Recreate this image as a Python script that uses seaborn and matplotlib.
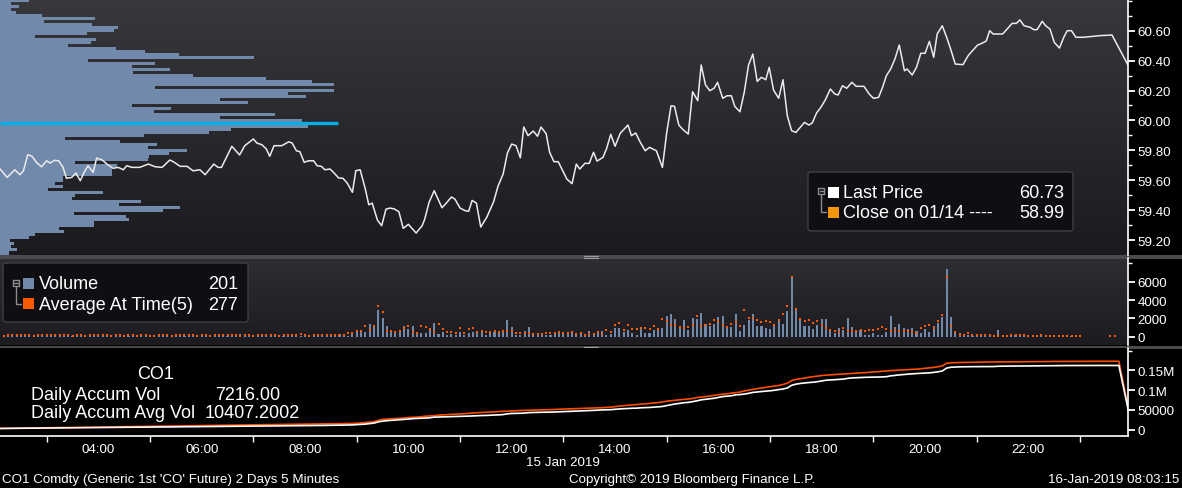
import numpy as np
import pandas as pd
import matplotlib
matplotlib.use("Agg")
import matplotlib.pyplot as plt
import matplotlib.dates as mdates
import seaborn as sns
from matplotlib.patches import Rectangle, FancyBboxPatch
from matplotlib.lines import Line2D
from matplotlib.colors import LinearSegmentedColormap
from matplotlib.ticker import FixedLocator, FixedFormatter

# ---------------- data ----------------
DAY = "2019-01-15"

price_times = [
    "02:06", "02:14", "02:17", "02:23", "02:29", "02:33", "02:38", "02:43", "02:48", "02:54",
    "03:00", "03:04", "03:09", "03:14", "03:19", "03:23", "03:29", "03:34", "03:39", "03:44",
    "03:48", "03:54", "03:58", "04:04", "04:10", "04:17", "04:23", "04:29", "04:33", "04:39",
    "04:48", "04:58", "05:06", "05:14", "05:23", "05:27", "05:35", "05:43", "05:50", "05:58",
    "06:04", "06:14", "06:19", "06:23", "06:35", "06:44", "06:50", "07:00", "07:04", "07:10",
    "07:15", "07:19", "07:24", "07:33", "07:41", "07:45", "07:50", "07:54", "07:59", "08:04",
    "08:10", "08:14", "08:19", "08:23", "08:29", "08:33", "08:39", "08:44", "08:49", "08:55",
    "08:59", "09:04", "09:10", "09:14", "09:18", "09:24", "09:29", "09:34", "09:39", "09:44",
    "09:49", "09:54", "10:00", "10:09", "10:16", "10:19", "10:24", "10:30", "10:39", "10:44",
    "10:50", "10:54", "11:00", "11:06", "11:10", "11:14", "11:19", "11:24", "11:31", "11:39",
    "11:44", "11:50", "11:55", "12:00", "12:05", "12:10", "12:14", "12:19", "12:25", "12:30",
    "12:34", "12:40", "12:44", "12:49", "12:54", "13:04", "13:10", "13:15", "13:19", "13:25",
    "13:30", "13:35", "13:39", "13:46", "13:50", "13:55", "14:00", "14:06", "14:15", "14:19",
    "14:24", "14:29", "14:35", "14:40", "14:48", "14:55", "15:00", "15:05", "15:09", "15:14",
    "15:19", "15:25", "15:30", "15:36", "15:40", "15:45", "15:50", "15:55", "15:59", "16:05",
    "16:10", "16:15", "16:19", "16:25", "16:30", "16:35", "16:40", "16:45", "16:50", "16:55",
    "16:59", "17:04", "17:10", "17:15", "17:20", "17:25", "17:30", "17:35", "17:40", "17:45",
    "17:49", "17:54", "17:59", "18:04", "18:10", "18:15", "18:19", "18:24", "18:29", "18:35",
    "18:40", "18:49", "18:55", "19:00", "19:06", "19:11", "19:15", "19:20", "19:25", "19:30",
    "19:36", "19:39", "19:45", "19:50", "19:55", "20:00", "20:05", "20:10", "20:14", "20:20",
    "20:25", "20:30", "20:35", "20:44", "20:50", "20:55", "21:01", "21:06", "21:11", "21:15",
    "21:19", "21:30", "21:36", "21:41", "21:46", "21:50", "21:55", "22:02", "22:06", "22:10",
    "22:16", "22:20", "22:25", "22:30", "22:36", "22:41", "22:45", "22:50", "22:55", "23:04",
    "23:23", "23:37", "23:56",
]
last_price = [
    59.675, 59.619, 59.635, 59.670, 59.637, 59.663, 59.771, 59.760, 59.720, 59.690,
    59.730, 59.715, 59.733, 59.730, 59.686, 59.613, 59.619, 59.648, 59.597, 59.659,
    59.697, 59.653, 59.748, 59.737, 59.708, 59.680, 59.686, 59.670, 59.697, 59.686,
    59.686, 59.708, 59.690, 59.686, 59.735, 59.724, 59.693, 59.693, 59.663, 59.670,
    59.637, 59.708, 59.686, 59.686, 59.827, 59.769, 59.831, 59.876, 59.849, 59.837,
    59.809, 59.760, 59.831, 59.831, 59.857, 59.849, 59.797, 59.791, 59.720, 59.730,
    59.730, 59.697, 59.693, 59.670, 59.675, 59.653, 59.615, 59.613, 59.581, 59.519,
    59.664, 59.670, 59.541, 59.436, 59.447, 59.334, 59.296, 59.407, 59.414, 59.407,
    59.389, 59.278, 59.305, 59.247, 59.296, 59.340, 59.452, 59.530, 59.416, 59.447,
    59.488, 59.474, 59.414, 59.396, 59.392, 59.465, 59.447, 59.287, 59.352, 59.456,
    59.559, 59.641, 59.782, 59.842, 59.831, 59.750, 59.956, 59.898, 59.929, 59.894,
    59.956, 59.911, 59.787, 59.724, 59.724, 59.608, 59.577, 59.708, 59.675, 59.713,
    59.713, 59.787, 59.728, 59.753, 59.809, 59.907, 59.827, 59.914, 59.969, 59.898,
    59.916, 59.857, 59.797, 59.820, 59.797, 59.686, 59.920, 60.098, 60.094, 59.969,
    59.938, 59.909, 60.192, 60.132, 60.371, 60.237, 60.199, 60.215, 60.255, 60.148,
    60.165, 60.165, 60.094, 60.058, 60.188, 60.371, 60.444, 60.261, 60.288, 60.272,
    60.355, 60.203, 60.148, 60.272, 60.031, 59.931, 59.920, 59.954, 59.987, 59.969,
    59.983, 60.050, 60.088, 60.136, 60.210, 60.177, 60.170, 60.232, 60.215, 60.255,
    60.228, 60.228, 60.177, 60.148, 60.154, 60.228, 60.299, 60.344, 60.411, 60.504,
    60.332, 60.344, 60.304, 60.355, 60.449, 60.449, 60.529, 60.422, 60.578, 60.633,
    60.556, 60.471, 60.377, 60.373, 60.433, 60.466, 60.504, 60.516, 60.531, 60.600,
    60.578, 60.578, 60.616, 60.649, 60.649, 60.672, 60.633, 60.623, 60.607, 60.607,
    60.663, 60.633, 60.611, 60.522, 60.484, 60.556, 60.600, 60.600, 60.556, 60.556,
    60.567, 60.571, 60.366,
]

# volume-at-price profile (price level, contracts)
profile_price = [
    60.80, 60.78, 60.76, 60.74, 60.72, 60.70, 60.68, 60.66, 60.64, 60.62,
    60.60, 60.58, 60.56, 60.54, 60.52, 60.50, 60.48, 60.46, 60.44, 60.42,
    60.40, 60.38, 60.36, 60.34, 60.32, 60.30, 60.28, 60.26, 60.24, 60.22,
    60.20, 60.18, 60.16, 60.14, 60.12, 60.10, 60.08, 60.06, 60.04, 60.02,
    60.00, 59.98, 59.96, 59.94, 59.92, 59.90, 59.88, 59.86, 59.84, 59.82,
    59.80, 59.78, 59.76, 59.74, 59.72, 59.70, 59.68, 59.66, 59.64, 59.62,
    59.60, 59.58, 59.56, 59.54, 59.52, 59.50, 59.48, 59.46, 59.44, 59.42,
    59.40, 59.38, 59.36, 59.34, 59.32, 59.30, 59.28, 59.26, 59.24, 59.22,
    59.20, 59.18, 59.16, 59.14, 59.12, 59.10,
]
profile_volume = [
    290, 110, 190, 110, 160, 420, 950, 440, 920, 1180,
    1140, 870, 350, 960, 910, 680, 1160, 1450, 1790, 2540,
    880, 1550, 1320, 1700, 1330, 1930, 2660, 3120, 3340, 1550,
    3340, 2880, 3060, 2200, 2480, 1320, 1710, 1540, 2750, 2200,
    3020, 3380, 3080, 2310, 2090, 1440, 650, 1200, 1570, 1480,
    1870, 1690, 1490, 1480, 750, 1170, 1120, 1120, 1120, 630,
    630, 550, 630, 480, 1030, 750, 720, 1410, 1190, 1800,
    1630, 740, 1260, 1290, 940, 940, 590, 640, 350, 290,
    100, 140, 110, 170, 90, 90,
]

# 5-minute bars from 02:05 to 23:45
bar_start = "02:05"
volume = [
    110, 90, 130, 70, 100, 90, 140, 80, 100, 120,
    90, 70, 110, 90, 120, 140, 90, 80, 70, 110,
    90, 120, 70, 100, 230, 110, 90, 70, 100, 80,
    100, 110, 90, 70, 100, 80, 110, 120, 90, 70,
    100, 110, 80, 90, 70, 110, 100, 80, 120, 90,
    110, 70, 100, 110, 90, 110, 240, 100, 80, 110,
    90, 130, 100, 110, 100, 110, 90, 120, 260, 100,
    60, 100, 70, 100, 70, 80, 316, 80, 60, 316,
    80, 105, 386, 737, 737, 562, 1369, 1193, 2948, 2001,
    1158, 737, 597, 737, 1158, 842, 1158, 562, 421, 421,
    842, 1474, 316, 527, 211, 316, 140, 527, 211, 421,
    491, 421, 527, 211, 597, 491, 421, 737, 1790, 1053,
    211, 211, 632, 1053, 140, 421, 211, 211, 211, 421,
    421, 421, 421, 632, 421, 421, 211, 632, 421, 632,
    632, 211, 316, 948, 948, 562, 772, 421, 211, 948,
    421, 421, 737, 842, 948, 2246, 2422, 1895, 1158, 1825,
    737, 2001, 1895, 2633, 1369, 1158, 1404, 2106, 2211, 948,
    1053, 2422, 632, 1264, 1790, 2422, 1158, 1158, 948, 842,
    1369, 1685, 1369, 2843, 6564, 2983, 1790, 1158, 1158, 842,
    1264, 1895, 1895, 632, 421, 948, 737, 1995, 1053, 562,
    737, 211, 211, 421, 211, 211, 527, 2211, 1053, 1369,
    948, 842, 948, 632, 421, 842, 527, 1158, 1474, 2106,
    7371, 2106, 632, 421, 211, 140, 60, 60, 60, 60,
    60, 60, 737, 60, 60, 316, 140, 60, 60, 60,
    60, 60, 316, 140, 60, 211, 60, 60, 60, 60,
    60, 60, 0, 0, 0, 0, 0, 0, 0, 0,
    0,
]
nan = float("nan")
avg_at_time = [
    150, 130, 170, 210, 160, 140, 170, 150, 130, 160,
    150, 150, 140, 170, 140, 180, 150, 130, 140, 160,
    130, 150, 140, 170, 160, 140, 130, 140, 160, 130,
    150, 140, 130, 160, 140, 130, 130, 150, 140, 140,
    130, 160, 150, 140, 140, 160, 130, 140, 140, 130,
    150, 160, 140, 140, 170, 150, 130, 160, 140, 130,
    160, 180, 140, 160, 150, 130, 160, 170, 150, 160,
    300, 140, 105, 140, 140, 140, 140, 140, 140, 140,
    140, 351, 351, 667, 667, 1158, 772, 1193, 3299, 2738,
    632, 632, 527, 632, 983, 1193, 562, 421, 1193, 1053,
    842, 491, 1404, 842, 562, 562, 386, 948, 456, 842,
    983, 562, 667, 562, 562, 667, 562, 667, 632, 632,
    351, 351, 386, 456, 246, 246, 246, 351, 351, 456,
    562, 456, 456, 562, 316, 351, 211, 316, 316, 527,
    316, 772, 562, 1299, 1509, 772, 1299, 842, 842, 983,
    983, 877, 1193, 877, 1930, 1720, 1264, 1264, 1053, 948,
    1088, 1264, 2246, 1193, 1264, 1404, 1825, 1685, 1264, 1088,
    1404, 1615, 1193, 2878, 2036, 2036, 1825, 1615, 1720, 1615,
    1264, 1825, 2457, 3299, 6529, 2983, 1895, 1720, 1825, 1509,
    1720, 1264, 983, 772, 667, 527, 983, 632, 667, 667,
    772, 667, 772, 772, 877, 1088, 877, 667, 772, 632,
    632, 632, 562, 421, 983, 1193, 1299, 983, 1720, 2316,
    6529, 1193, 491, 211, 211, 351, 140, 140, 140, 140,
    140, 70, 70, 70, 70, 140, 140, 140, 140, 70,
    70, 70, 140, 70, 70, 70, 70, 70, 70, 70,
    70, 35, nan, nan, nan, nan, nan, nan, 50, 50,
    nan,
]

accum_start = 3000            # volume already accumulated before 02:05
next_day_time = "2019-01-16 00:00"
daily_accum_vol_now = 7216.00
daily_accum_avg_now = 10407.2002

legend_last_price = "60.73"
legend_prev_close = "58.99"
legend_volume = "201"
legend_avg_time = "277"

# ---------------- style ----------------
sns.set_theme(style="dark")
plt.rcParams["font.family"] = ["Liberation Sans", "DejaVu Sans"]
plt.rcParams["axes.facecolor"] = "black"
plt.rcParams["figure.facecolor"] = "black"

W, H = 1182, 489
fig = plt.figure(figsize=(W / 100, H / 100), dpi=100, facecolor="black")

C_WHITE = "#ececec"
C_BAR = "#7189ab"
C_AVG = "#ff5a00"
C_ACC_AVG = "#ff4d00"
C_CLOSE = "#f5960f"
AX_RIGHT = 1128


def panel(y0, y1, x0=0, x1=AX_RIGHT):
    return fig.add_axes([x0 / W, 1 - y1 / H, (x1 - x0) / W, (y1 - y0) / H])


def gradient(y0, y1, top, bottom):
    a = panel(y0, y1)
    cmap = LinearSegmentedColormap.from_list("g", [top, bottom])
    a.imshow(np.linspace(0, 1, 128)[:, None], cmap=cmap, aspect="auto", extent=[0, 1, 0, 1])
    a.set_axis_off()
    a.set_zorder(0)
    return a


def ftext(x, y, s, **kw):
    kw.setdefault("color", "white")
    kw.setdefault("va", "center")
    return fig.text(x / W, 1 - y / H, s, **kw)


def fbox(x0, y0, x1, y1, color):
    fig.add_artist(Rectangle((x0 / W, 1 - y1 / H), (x1 - x0) / W, (y1 - y0) / H,
                             transform=fig.transFigure, color=color, lw=0))


def fline(xs, ys, color="#8c8c8c", lw=1.0):
    fig.add_artist(Line2D([x / W for x in xs], [1 - y / H for y in ys],
                          transform=fig.transFigure, color=color, lw=lw))


t_price = pd.to_datetime([f"{DAY} {t}" for t in price_times])
t_bars = pd.Timestamp(f"{DAY} {bar_start}") + pd.to_timedelta(np.arange(len(volume)) * 5, unit="min")
x_left = pd.Timestamp(f"{DAY} 02:05:48")
x_right = pd.Timestamp(f"{DAY} 23:55:36")

vol_arr = np.array(volume, dtype=float)
avg_arr = np.array(avg_at_time, dtype=float)
acc_vol = accum_start + np.cumsum(vol_arr)
acc_avg = accum_start + np.cumsum(np.nan_to_num(avg_arr))
t_acc = list(t_bars) + [pd.Timestamp(next_day_time)]
acc_vol = list(acc_vol) + [daily_accum_vol_now]
acc_avg = list(acc_avg) + [daily_accum_avg_now]


def right_axis(ax):
    for s in ["left", "top", "bottom"]:
        ax.spines[s].set_visible(False)
    ax.spines["right"].set_color("white")
    ax.spines["right"].set_linewidth(1.2)
    ax.yaxis.tick_right()
    ax.tick_params(axis="y", which="major", colors="white", labelcolor="white",
                   labelsize=9.6, length=5, width=1.3, pad=2, direction="out")
    ax.tick_params(axis="y", which="minor", colors="white", length=3, width=1, direction="out", right=True)
    ax.set_xlabel("")
    ax.set_ylabel("")
    ax.grid(False)


# ---------------- top panel: price + volume profile ----------------
gradient(0, 256, "#37373c", "#1b1b1f")

ax_prof = panel(0, 256)
ax_prof.set_zorder(1)
ax_prof.patch.set_visible(False)
ax_prof.barh(profile_price, profile_volume, height=0.02, color=C_BAR, lw=0)
poc = profile_price[int(np.argmax(profile_volume))]
ax_prof.hlines(poc, 0, max(profile_volume), color="#00b0e6", lw=2.4)
ax_prof.set_xlim(0, 11280)
ax_prof.set_ylim(59.100, 60.812)
ax_prof.set_axis_off()

ax_top = panel(0, 256)
ax_top.set_zorder(2)
ax_top.patch.set_visible(False)
sns.lineplot(x=t_price, y=last_price, ax=ax_top, color=C_WHITE, lw=1.1, legend=False)
ax_top.set_xlim(x_left, x_right)
ax_top.set_ylim(59.100, 60.812)
ax_top.yaxis.set_major_locator(FixedLocator([59.2, 59.4, 59.6, 59.8, 60.0, 60.2, 60.4, 60.6]))
ax_top.yaxis.set_major_formatter(FixedFormatter(["59.20", "59.40", "59.60", "59.80", "60.00", "60.20", "60.40", "60.60"]))
ax_top.yaxis.set_minor_locator(FixedLocator([59.3, 59.5, 59.7, 59.9, 60.1, 60.3, 60.5, 60.7, 60.8]))
ax_top.set_xticks([])
right_axis(ax_top)

# ---------------- volume panel ----------------
gradient(259, 346, "#2d2d32", "#1c1c20")
ax_vol = panel(259, 346)
ax_vol.set_zorder(2)
ax_vol.patch.set_visible(False)
ax_vol.bar(t_bars, vol_arr, width=2.4 / 1440, color=C_BAR, lw=0)
sns.scatterplot(x=t_bars, y=avg_arr, ax=ax_vol, marker="s", s=3.8, color=C_AVG, lw=0, legend=False, zorder=3)
ax_vol.set_xlim(x_left, x_right)
ax_vol.set_ylim(-906, 8586)
ax_vol.yaxis.set_major_locator(FixedLocator([0, 2000, 4000, 6000]))
ax_vol.yaxis.set_major_formatter(FixedFormatter(["0", "2000", "4000", "6000"]))
ax_vol.yaxis.set_minor_locator(FixedLocator([8000]))
ax_vol.set_xticks([])
right_axis(ax_vol)

# ---------------- accumulated volume panel ----------------
ax_acc = panel(349, 437)
ax_acc.set_zorder(2)
ax_acc.set_facecolor("black")
sns.lineplot(x=t_acc, y=acc_avg, ax=ax_acc, color=C_ACC_AVG, lw=1.2, legend=False)
sns.lineplot(x=t_acc, y=acc_vol, ax=ax_acc, color="white", lw=1.2, legend=False)
ax_acc.set_xlim(x_left, x_right)
ax_acc.set_ylim(-16000, 207000)
ax_acc.yaxis.set_major_locator(FixedLocator([0, 50000, 100000, 150000]))
ax_acc.yaxis.set_major_formatter(FixedFormatter(["0", "50000", "0.1M", "0.15M"]))
ax_acc.yaxis.set_minor_locator(FixedLocator([200000]))
right_axis(ax_acc)
ax_acc.spines["bottom"].set_visible(True)
ax_acc.spines["bottom"].set_color("white")
ax_acc.spines["bottom"].set_linewidth(1.2)
even_hours = [pd.Timestamp(f"{DAY} {h:02d}:00") for h in range(4, 24, 2)]
odd_hours = [pd.Timestamp(f"{DAY} {h:02d}:00") for h in range(3, 24, 2)]
ax_acc.xaxis.set_major_locator(FixedLocator(mdates.date2num(even_hours)))
ax_acc.xaxis.set_major_formatter(FixedFormatter([t.strftime("%H:%M") for t in even_hours]))
ax_acc.xaxis.set_minor_locator(FixedLocator(mdates.date2num(odd_hours)))
ax_acc.tick_params(axis="x", which="major", length=0, pad=5, labelsize=9.6, labelcolor="white")
ax_acc.tick_params(axis="x", which="minor", length=4, width=1, colors="white", bottom=True, direction="out")

# ---------------- separators ----------------
fbox(0, 256, W, 259.5, "#4a4a4e")
fbox(0, 346.5, W, 350, "#4a4a4e")
for yy in (257.0, 258.6):
    fline([584, 598], [yy, yy], color="#a0a0a0", lw=0.8)
for yy in (347.6, 349.2):
    fline([584, 598], [yy, yy], color="#a0a0a0", lw=0.8)

# ---------------- legends ----------------
FS = 13
# top legend box
fig.add_artist(FancyBboxPatch((808 / W, 1 - 232 / H), 265 / W, 59 / H,
                              boxstyle="round,pad=0,rounding_size=0.004",
                              transform=fig.transFigure, fc="#0f0f13", ec="#3e3e44", lw=1))
fline([818, 824, 824, 818, 818], [189, 189, 195, 195, 189])
fline([819.5, 822.5], [192, 192])
fline([821, 821, 826], [195, 213, 213])
fbox(828, 188, 839, 199, "white")
fbox(828, 208, 839, 219, C_CLOSE)
ftext(843, 193.5, "Last Price", fontsize=FS)
ftext(1064, 193.5, legend_last_price, fontsize=FS, ha="right")
ftext(843, 213.5, "Close on 01/14 ----", fontsize=FS)
ftext(1064, 213.5, legend_prev_close, fontsize=FS, ha="right")

# volume legend box
fig.add_artist(FancyBboxPatch((3 / W, 1 - 323 / H), 245 / W, 59 / H,
                              boxstyle="round,pad=0,rounding_size=0.004",
                              transform=fig.transFigure, fc="#0f0f13", ec="#3e3e44", lw=1))
fline([13, 19, 19, 13, 13], [281, 281, 287, 287, 281])
fline([14.5, 17.5], [284, 284])
fline([16, 16, 21], [287, 305, 305])
fbox(23, 279, 34, 290, C_BAR)
fbox(23, 299, 34, 310, C_AVG)
ftext(39, 285, "Volume", fontsize=FS)
ftext(238, 285, legend_volume, fontsize=FS, ha="right")
ftext(39, 305, "Average At Time(5)", fontsize=FS)
ftext(238, 305, legend_avg_time, fontsize=FS, ha="right")

# accumulated legend
ftext(156, 375, "CO1", fontsize=FS, ha="center")
fbox(14, 389, 26, 401, "white")
fbox(14, 408, 26, 420, C_ACC_AVG)
ftext(31, 395, "Daily Accum Vol", fontsize=FS)
ftext(280, 395, f"{daily_accum_vol_now:.2f}", fontsize=FS, ha="right")
ftext(31, 414, "Daily Accum Avg Vol", fontsize=FS)
ftext(300, 414, f"{daily_accum_avg_now:.4f}", fontsize=FS, ha="right")

# ---------------- footer ----------------
ftext(563, 463, "15 Jan 2019", fontsize=9.6, ha="center")
ftext(2, 480, "CO1 Comdty (Generic 1st 'CO' Future) 2 Days 5 Minutes", fontsize=9.6)
ftext(692, 480, "Copyright\u00a9 2019 Bloomberg Finance L.P.", fontsize=9.6, ha="center")
ftext(1179, 480, "16-Jan-2019 08:03:15", fontsize=9.6, ha="right")

fig.savefig("out.png", dpi=100, facecolor="black")
